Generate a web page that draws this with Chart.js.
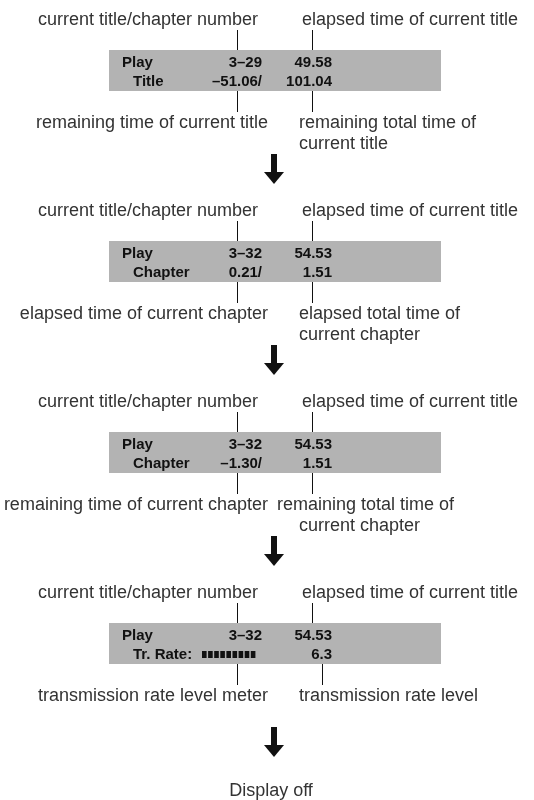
<!DOCTYPE html>
<html>
<head>
<meta charset="utf-8">
<script src="https://cdn.jsdelivr.net/npm/chart.js@4"></script>
<style>
  html, body { margin: 0; padding: 0; background: #fff; }
  #wrap { width: 534px; height: 800px; position: relative; }
</style>
</head>
<body>
<div id="wrap"><canvas id="displayChart"></canvas></div>
<script>
// display contents for each step
const row1Labels = ['Play', 'Play', 'Play', 'Play'];
const row2Labels = ['Title', 'Chapter', 'Chapter', 'Tr. Rate:'];
const titleChapter = ['3–29', '3–32', '3–32', '3–32'];
const elapsedTitle = ['49.58', '54.53', '54.53', '54.53'];
const row2Left = ['–51.06/', '0.21/', '–1.30/', ''];
const row2Right = ['101.04', '1.51', '1.51', '6.3'];
const meterSegments = [0, 0, 0, 9];

// captions
const topCaptions = ['current title/chapter number', 'elapsed time of current title'];
const bottomLeftCaptions = [
    'remaining time of current title',
    'elapsed time of current chapter',
    'remaining time of current chapter',
    'transmission rate level meter'
];
const bottomRightCaptions = [
    ['remaining total time of', 'current title'],
    ['elapsed total time of', 'current chapter'],
    ['remaining total time of', 'current chapter'],
    ['transmission rate level']
];
const endLabel = 'Display off';

// layout (in axis units, 1 unit = 1px)
const PANEL_STEP = 191;
const BOX = { left: 109, right: 441, top: 50, bottom: 91 };
const COL = { play: 122, label2: 133, left: 262, right: 332 };
const LEAD = { left: 237, right: 312 };
const leadRightBottom = [312, 312, 312, 322];
const captionRightX = [[299, 299], [299, 299], [277, 299], [299]];
const ARROW_X = 274;

const captionFont = '18px "Liberation Sans", Arial, sans-serif';
const boldFont = 'bold 15px "Liberation Sans", Arial, sans-serif';

const diagramPlugin = {
    id: 'diagram',
    afterDraw(chart) {
        const ctx = chart.ctx;
        const sx = chart.scales.x, sy = chart.scales.y;
        const X = v => sx.getPixelForValue(v);
        const Y = v => sy.getPixelForValue(v);

        function text(str, x, y, align, font, color) {
            ctx.font = font;
            ctx.fillStyle = color;
            ctx.textAlign = align;
            ctx.textBaseline = 'alphabetic';
            ctx.fillText(str, X(x), Y(y));
        }
        function vline(x, y0, y1) {
            ctx.beginPath();
            ctx.moveTo(Math.round(X(x)) + 0.5, Y(y0));
            ctx.lineTo(Math.round(X(x)) + 0.5, Y(y1));
            ctx.strokeStyle = '#111';
            ctx.lineWidth = 1;
            ctx.stroke();
        }
        function arrow(cx, tip) {
            ctx.fillStyle = '#111';
            ctx.fillRect(X(cx - 3), Y(tip - 30), X(cx + 3) - X(cx - 3), Y(tip - 11) - Y(tip - 30));
            ctx.beginPath();
            ctx.moveTo(X(cx - 10), Y(tip - 12));
            ctx.lineTo(X(cx + 10), Y(tip - 12));
            ctx.lineTo(X(cx), Y(tip));
            ctx.closePath();
            ctx.fill();
        }

        ctx.save();
        row1Labels.forEach((lbl, i) => {
            const o = i * PANEL_STEP;

            // captions above
            text(topCaptions[0], 258, o + 25, 'right', captionFont, '#333');
            text(topCaptions[1], 302, o + 25, 'left', captionFont, '#333');
            vline(LEAD.left, o + 30, o + BOX.top);
            vline(LEAD.right, o + 30, o + BOX.top);

            // display box
            ctx.fillStyle = '#b3b3b3';
            ctx.fillRect(X(BOX.left), Y(o + BOX.top), X(BOX.right) - X(BOX.left), Y(o + BOX.bottom) - Y(o + BOX.top));

            text(lbl, COL.play, o + 67, 'left', boldFont, '#111');
            text(titleChapter[i], COL.left, o + 67, 'right', boldFont, '#111');
            text(elapsedTitle[i], COL.right, o + 67, 'right', boldFont, '#111');
            text(row2Labels[i], COL.label2, o + 86, 'left', boldFont, '#111');
            if (row2Left[i]) text(row2Left[i], COL.left, o + 86, 'right', boldFont, '#111');
            text(row2Right[i], COL.right, o + 86, 'right', boldFont, '#111');

            // level meter blocks
            ctx.fillStyle = '#111';
            for (let k = 0; k < meterSegments[i]; k++) {
                const bx = 202 + k * 6.1;
                ctx.fillRect(X(bx), Y(o + 78), X(bx + 4.6) - X(bx), Y(o + 85) - Y(o + 78));
            }

            // captions below
            vline(LEAD.left, o + BOX.bottom, o + 112);
            vline(leadRightBottom[i], o + BOX.bottom, o + 112);
            text(bottomLeftCaptions[i], 268, o + 128, 'right', captionFont, '#333');
            bottomRightCaptions[i].forEach((line, j) => {
                text(line, captionRightX[i][j], o + 128 + j * 21, 'left', captionFont, '#333');
            });

            arrow(ARROW_X, o + 184);
        });
        text(endLabel, 271, 796, 'center', captionFont, '#333');
        ctx.restore();
    }
};

new Chart(document.getElementById('displayChart'), {
    type: 'scatter',
    data: { datasets: [{ data: [], pointRadius: 0 }] },
    options: {
        responsive: true,
        maintainAspectRatio: false,
        animation: false,
        layout: { padding: 0 },
        plugins: { legend: { display: false }, tooltip: { enabled: false } },
        scales: {
            x: { type: 'linear', min: 0, max: 534, display: false },
            y: { type: 'linear', min: 0, max: 800, reverse: true, display: false }
        }
    },
    plugins: [diagramPlugin]
});
</script>
</body>
</html>
